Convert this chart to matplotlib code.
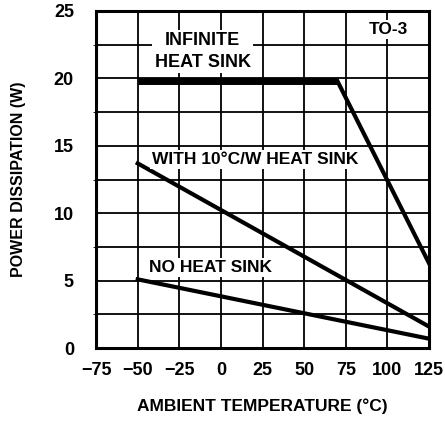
import matplotlib
matplotlib.use("Agg")
import matplotlib.pyplot as plt
from matplotlib.ticker import MultipleLocator

plt.rcParams['font.family'] = ['Liberation Sans Narrow', 'Liberation Sans', 'DejaVu Sans']
plt.rcParams['font.weight'] = 'bold'
plt.rcParams['axes.labelweight'] = 'bold'

# curves
inf_temp = [-50, 70, 125]
inf_power = [19.8, 19.8, 6.3]
hs_temp = [-50, 125]
hs_power = [13.7, 1.6]
nohs_temp = [-50, 125]
nohs_power = [5.1, 0.7]

x_ticks = [-75, -50, -25, 0, 25, 50, 75, 100, 125]
x_ticklabels = ['\u221275', '\u221250', '\u221225', '0', '25', '50', '75', '100', '125']
y_ticks = [0, 5, 10, 15, 20, 25]

fig = plt.figure(figsize=(4.45, 4.23), dpi=100, facecolor="white")
ax = fig.add_axes([0.216, 0.177, 0.748, 0.797])

ax.set_xlim(-75, 125)
ax.set_ylim(0, 25)
ax.xaxis.set_minor_locator(MultipleLocator(25))
ax.yaxis.set_minor_locator(MultipleLocator(2.5))
ax.grid(which='both', color='black', linewidth=1.3)
ax.set_axisbelow(True)
for s in ax.spines.values():
    s.set_linewidth(2.2)

ax.set_xticks(x_ticks)
ax.set_xticklabels(x_ticklabels)
ax.set_yticks(y_ticks)
ax.tick_params(length=0, labelsize=13)
ax.tick_params(axis='x', pad=10)
ax.tick_params(axis='y', pad=16)

# infinite heat sink: flat part is drawn heavier than the derating slope
ax.plot(inf_temp[:2], inf_power[:2], color='black', linewidth=5, solid_capstyle='butt')
ax.plot(inf_temp[1:], inf_power[1:], color='black', linewidth=3)
ax.plot(hs_temp, hs_power, color='black', linewidth=3)
ax.plot(nohs_temp, nohs_power, color='black', linewidth=3)

box = dict(facecolor='white', edgecolor='none', pad=1.5)
ax.text(-11, 22, 'INFINITE\nHEAT SINK', ha='center', va='center', fontsize=13,
        linespacing=1.35, bbox=box)
ax.text(20.5, 14.0, 'WITH 10\u00b0C/W HEAT SINK', ha='center', va='center',
        fontsize=12.5, bbox=box)
ax.text(-6, 6.0, 'NO HEAT SINK', ha='center', va='center', fontsize=12.5, bbox=box)
ax.text(100.5, 23.6, 'TO-3', ha='center', va='center', fontsize=12.5, bbox=box)

ax.set_xlabel('AMBIENT TEMPERATURE (\u00b0C)', fontsize=12.5, labelpad=14)
ax.set_ylabel('POWER DISSIPATION (W)', fontsize=11.5, labelpad=20)

fig.savefig('out.png', dpi=100, facecolor='white')
